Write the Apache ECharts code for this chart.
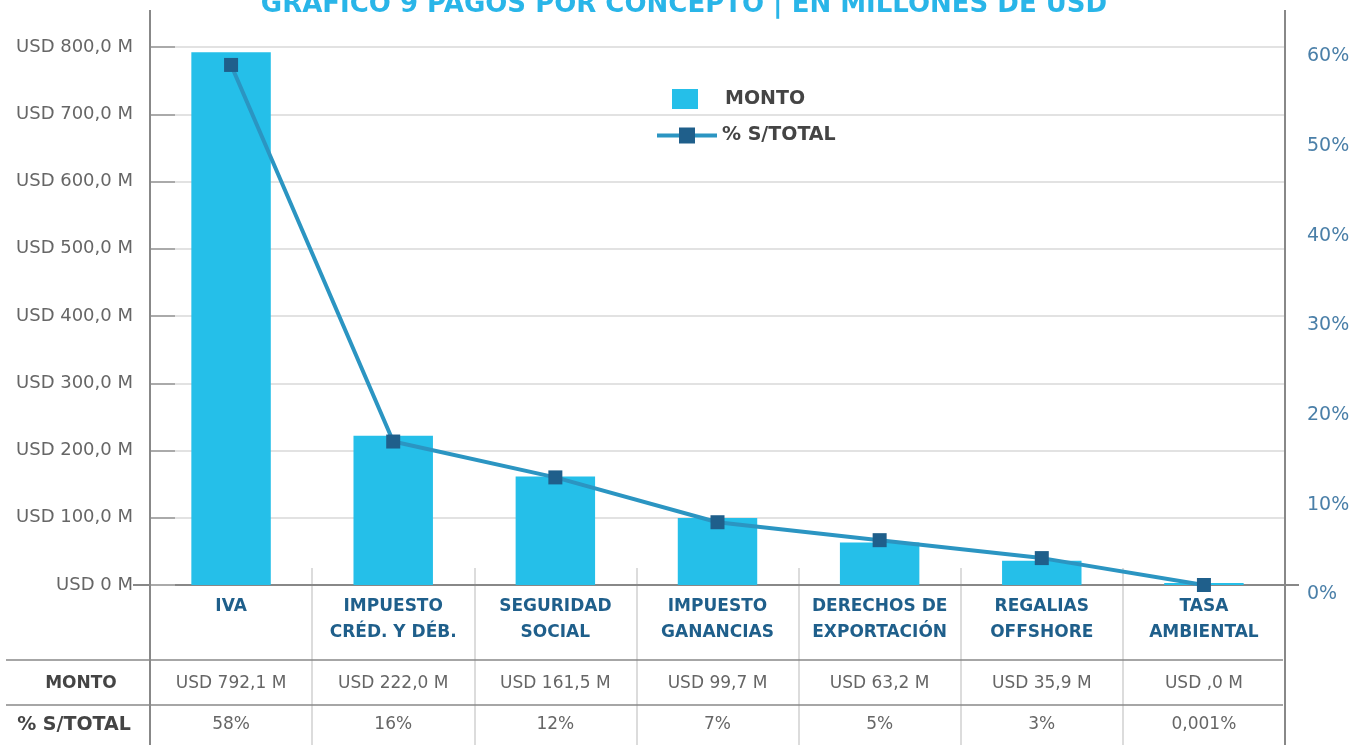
<!DOCTYPE html>
<html>
<head>
<meta charset="utf-8">
<script src="https://cdn.jsdelivr.net/npm/echarts@6/dist/echarts.min.js"></script>
<style>
  html, body { margin: 0; padding: 0; background: #fff; }
  #main { width: 1368px; height: 745px; }
</style>
</head>
<body>
<div id="main"></div>
<script>
// datos del gráfico
const categories = ['IVA', 'IMPUESTO\nCRÉD. Y DÉB.', 'SEGURIDAD\nSOCIAL', 'IMPUESTO\nGANANCIAS', 'DERECHOS DE\nEXPORTACIÓN', 'REGALIAS\nOFFSHORE', 'TASA\nAMBIENTAL'];
const montos = [792.1, 222.0, 161.5, 99.7, 63.2, 35.9, 0.02];
const porcentajes = [58, 16, 12, 7, 5, 3, 0.001];
const montoLabels = ['USD 792,1 M', 'USD 222,0 M', 'USD 161,5 M', 'USD 99,7 M', 'USD 63,2 M', 'USD 35,9 M', 'USD ,0 M'];
const pctLabels = ['58%', '16%', '12%', '7%', '5%', '3%', '0,001%'];
const leftTicks = ['USD 0 M', 'USD 100,0 M', 'USD 200,0 M', 'USD 300,0 M', 'USD 400,0 M', 'USD 500,0 M', 'USD 600,0 M', 'USD 700,0 M', 'USD 800,0 M'];
const rightTicks = ['0%', '10%', '20%', '30%', '40%', '50%', '60%'];

const FONT = '"DejaVu Sans", sans-serif';
const chart = echarts.init(document.getElementById('main'));

const option = {
  backgroundColor: '#fff',
  textStyle: { fontFamily: FONT },
  title: {
    text: 'GRÁFICO 9 PAGOS POR CONCEPTO | EN MILLONES DE USD',
    left: 'center',
    top: -13,
    textStyle: { color: '#29b5e8', fontSize: 26, fontWeight: 'bold', fontFamily: FONT }
  },
  legend: [
    {
      data: ['MONTO'],
      left: 667, top: 84,
      itemWidth: 26, itemHeight: 20, itemGap: 10,
      icon: 'rect',
      textStyle: { color: '#444', fontSize: 19, fontWeight: 'bold', padding: [0, 0, 0, 22] }
    },
    {
      data: ['% S/TOTAL'],
      left: 650, top: 121,
      itemWidth: 60, itemHeight: 20,
      lineStyle: { width: 4 },
      textStyle: { color: '#444', fontSize: 19, fontWeight: 'bold' }
    }
  ],
  grid: [
    { left: 150, right: 83, top: 47, bottom: 160 },
    { left: 150, right: 83, top: 568, bottom: 0 }
  ],
  xAxis: [
    {
      type: 'category', gridIndex: 0, data: categories,
      axisLine: { lineStyle: { color: '#888', width: 2 } },
      axisTick: { show: false },
      axisLabel: {
        interval: 0, margin: 9, verticalAlign: 'top', lineHeight: 26,
        color: '#1f5f8b', fontSize: 17, fontWeight: 'bold'
      }
    },
    {
      type: 'category', gridIndex: 0, data: montoLabels, position: 'bottom', offset: 99,
      axisLine: { show: false }, axisTick: { show: false },
      axisLabel: { interval: 0, margin: 0, verticalAlign: 'middle', color: '#666', fontSize: 17 }
    },
    {
      type: 'category', gridIndex: 0, data: pctLabels, position: 'bottom', offset: 140,
      axisLine: { show: false }, axisTick: { show: false },
      axisLabel: { interval: 0, margin: 0, verticalAlign: 'middle', color: '#666', fontSize: 17 }
    },
    {
      type: 'category', gridIndex: 1, data: categories,
      axisLine: { show: false }, axisTick: { show: false }, axisLabel: { show: false },
      splitLine: { show: true, interval: 0, lineStyle: { color: '#d0d0d0', width: 1.5 } }
    }
  ],
  yAxis: [
    {
      type: 'value', gridIndex: 0, min: 0, max: 800, interval: 100,
      axisLine: { show: false },
      axisTick: { show: true, inside: true, length: 25, lineStyle: { color: '#aaa', width: 2 } },
      splitLine: { lineStyle: { color: '#e2e2e2', width: 2 } },
      axisLabel: {
        margin: 17, color: '#666', fontSize: 18,
        formatter: (v) => leftTicks[Math.round(v / 100)]
      }
    },
    {
      type: 'value', gridIndex: 0, min: 0, max: 60, interval: 10,
      axisLine: { show: false }, axisTick: { show: false }, splitLine: { show: false },
      axisLabel: {
        margin: 22, color: '#4a7fa8', fontSize: 19, verticalAlign: 'top',
        formatter: (v) => rightTicks[Math.round(v / 10)]
      }
    },
    { type: 'value', gridIndex: 1, show: false }
  ],
  series: [
    {
      name: 'MONTO', type: 'bar', xAxisIndex: 0, yAxisIndex: 0,
      data: montos, barWidth: '49%', barMinHeight: 2,
      itemStyle: { color: '#25bfe9' }
    },
    {
      name: '% S/TOTAL', type: 'line', xAxisIndex: 0, yAxisIndex: 1,
      data: porcentajes, symbol: 'rect', symbolSize: 14,
      lineStyle: { color: '#2b95c2', width: 4 },
      itemStyle: { color: '#1f5f8b' },
      z: 5
    }
  ],
  graphic: [
    // marco y filas de la tabla
    { type: 'line', shape: { x1: 150, y1: 10, x2: 150, y2: 745 }, style: { stroke: '#888', lineWidth: 2 }, z: 10 },
    { type: 'line', shape: { x1: 1285, y1: 10, x2: 1285, y2: 745 }, style: { stroke: '#888', lineWidth: 2 }, z: 10 },
    { type: 'line', shape: { x1: 6, y1: 660, x2: 1283, y2: 660 }, style: { stroke: '#888', lineWidth: 1.5 }, z: 10 },
    { type: 'line', shape: { x1: 6, y1: 705, x2: 1283, y2: 705 }, style: { stroke: '#888', lineWidth: 1.5 }, z: 10 },
    { type: 'line', shape: { x1: 1285, y1: 585, x2: 1299, y2: 585 }, style: { stroke: '#888', lineWidth: 2 }, z: 10 },
    { type: 'line', shape: { x1: 133, y1: 585, x2: 150, y2: 585 }, style: { stroke: '#888', lineWidth: 2 }, z: 10 },
    {
      type: 'text', x: 81, y: 684,
      style: { text: 'MONTO', fill: '#444', font: 'bold 17px ' + FONT, textAlign: 'center', textVerticalAlign: 'middle' }
    },
    {
      type: 'text', x: 74, y: 725,
      style: { text: '% S/TOTAL', fill: '#444', font: 'bold 19px ' + FONT, textAlign: 'center', textVerticalAlign: 'middle' }
    }
  ]
};

chart.setOption(option);
</script>
</body>
</html>
